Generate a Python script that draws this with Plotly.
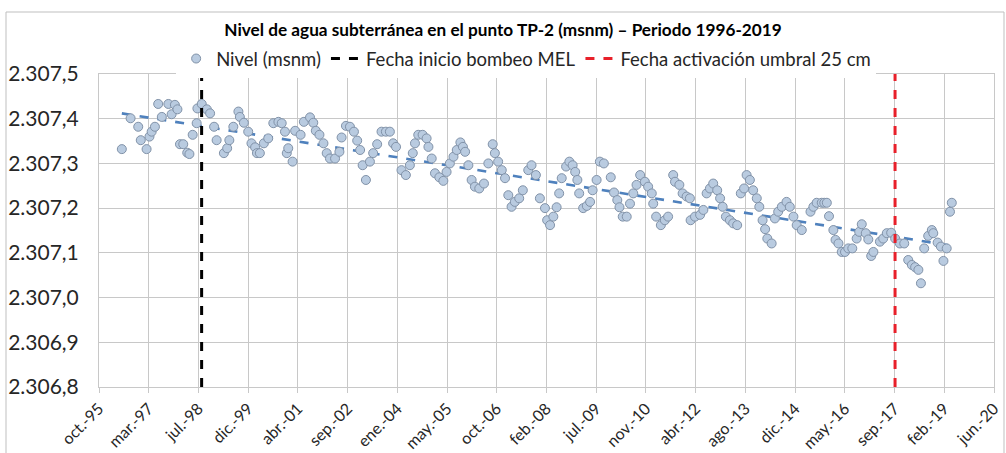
import numpy as np
import pandas as pd
import plotly.graph_objects as go

# ---- data (dates as decimal years, levels in m a.s.l.) ----
fecha_decimal = [
    1996.45, 1996.69, 1996.90, 1996.97, 1997.13, 1997.21, 1997.27, 1997.36, 1997.45, 1997.55,
    1997.73, 1997.82, 1997.91, 1997.98, 1998.05, 1998.14, 1998.25, 1998.31, 1998.40, 1998.51,
    1998.53, 1998.65, 1998.79, 1998.88, 1998.99, 1999.06, 1999.26, 1999.35, 1999.41, 1999.52,
    1999.66, 1999.70, 1999.81, 1999.93, 2000.02, 2000.12, 2000.17, 2000.25, 2000.36, 2000.48,
    2000.62, 2000.76, 2000.85, 2000.94, 2000.99, 2001.03, 2001.15, 2001.22, 2001.37, 2001.46,
    2001.63, 2001.72, 2001.79, 2001.89, 2002.00, 2002.09, 2002.18, 2002.32, 2002.44, 2002.50,
    2002.62, 2002.73, 2002.84, 2002.93, 2003.01, 2003.08, 2003.17, 2003.28, 2003.37, 2003.48,
    2003.60, 2003.72, 2003.83, 2003.92, 2004.00, 2004.15, 2004.27, 2004.38, 2004.46, 2004.52,
    2004.61, 2004.73, 2004.84, 2004.89, 2004.98, 2005.07, 2005.19, 2005.30, 2005.39, 2005.48,
    2005.58, 2005.67, 2005.77, 2005.84, 2005.90, 2005.99, 2006.08, 2006.17, 2006.29, 2006.42,
    2006.54, 2006.66, 2006.72, 2006.81, 2006.91, 2007.00, 2007.09, 2007.18, 2007.27, 2007.39,
    2007.49, 2007.64, 2007.73, 2007.85, 2007.96, 2008.10, 2008.16, 2008.24, 2008.33, 2008.42,
    2008.49, 2008.56, 2008.68, 2008.77, 2008.86, 2008.93, 2008.99, 2009.04, 2009.15, 2009.25,
    2009.34, 2009.41, 2009.52, 2009.61, 2009.72, 2009.91, 2010.00, 2010.09, 2010.15, 2010.24,
    2010.35, 2010.44, 2010.53, 2010.62, 2010.72, 2010.85, 2010.94, 2011.04, 2011.08, 2011.16,
    2011.29, 2011.40, 2011.49, 2011.63, 2011.68, 2011.80, 2011.89, 2012.00, 2012.09, 2012.11,
    2012.23, 2012.37, 2012.46, 2012.55, 2012.64, 2012.73, 2012.84, 2012.92, 2012.99, 2013.08,
    2013.19, 2013.28, 2013.39, 2013.49, 2013.58, 2013.65, 2013.74, 2013.83, 2013.93, 2014.00,
    2014.09, 2014.16, 2014.22, 2014.34, 2014.43, 2014.52, 2014.62, 2014.75, 2014.84, 2014.94,
    2015.03, 2015.17, 2015.41, 2015.49, 2015.58, 2015.72, 2015.79, 2015.86, 2015.92, 2016.04,
    2016.10, 2016.18, 2016.27, 2016.36, 2016.45, 2016.56, 2016.68, 2016.75, 2016.82, 2016.93,
    2017.00, 2017.08, 2017.14, 2017.32, 2017.41, 2017.51, 2017.63, 2017.74, 2017.87, 2017.99,
    2018.10, 2018.20, 2018.29, 2018.38, 2018.45, 2018.54, 2018.65, 2018.75, 2018.79, 2018.91,
    2019.00, 2019.07, 2019.16, 2019.25, 2019.30,
]
nivel_msnm = [
    2307.332, 2307.401, 2307.382, 2307.352, 2307.332, 2307.360, 2307.371, 2307.382, 2307.433, 2307.404,
    2307.433, 2307.410, 2307.431, 2307.421, 2307.343, 2307.343, 2307.324, 2307.321, 2307.364, 2307.390,
    2307.423, 2307.433, 2307.421, 2307.412, 2307.382, 2307.352, 2307.323, 2307.334, 2307.352, 2307.382,
    2307.416, 2307.404, 2307.391, 2307.371, 2307.345, 2307.336, 2307.323, 2307.323, 2307.345, 2307.356,
    2307.390, 2307.393, 2307.390, 2307.371, 2307.323, 2307.334, 2307.304, 2307.373, 2307.364, 2307.393,
    2307.403, 2307.391, 2307.373, 2307.364, 2307.345, 2307.323, 2307.311, 2307.311, 2307.326, 2307.358,
    2307.384, 2307.382, 2307.371, 2307.351, 2307.330, 2307.296, 2307.263, 2307.304, 2307.323, 2307.343,
    2307.371, 2307.371, 2307.371, 2307.345, 2307.337, 2307.285, 2307.274, 2307.296, 2307.323, 2307.345,
    2307.364, 2307.364, 2307.356, 2307.337, 2307.311, 2307.278, 2307.269, 2307.261, 2307.281, 2307.300,
    2307.315, 2307.330, 2307.347, 2307.337, 2307.326, 2307.296, 2307.263, 2307.248, 2307.244, 2307.255,
    2307.300, 2307.343, 2307.323, 2307.304, 2307.285, 2307.267, 2307.229, 2307.203, 2307.214, 2307.222,
    2307.240, 2307.285, 2307.296, 2307.274, 2307.222, 2307.200, 2307.173, 2307.162, 2307.181, 2307.202,
    2307.233, 2307.267, 2307.293, 2307.304, 2307.296, 2307.281, 2307.263, 2307.233, 2307.200, 2307.205,
    2307.214, 2307.240, 2307.263, 2307.304, 2307.300, 2307.269, 2307.235, 2307.218, 2307.202, 2307.181,
    2307.181, 2307.210, 2307.233, 2307.252, 2307.274, 2307.259, 2307.248, 2307.233, 2307.210, 2307.181,
    2307.162, 2307.173, 2307.181, 2307.274, 2307.259, 2307.252, 2307.233, 2307.226, 2307.222, 2307.173,
    2307.181, 2307.185, 2307.196, 2307.233, 2307.244, 2307.255, 2307.240, 2307.222, 2307.203, 2307.181,
    2307.173, 2307.166, 2307.162, 2307.233, 2307.244, 2307.274, 2307.263, 2307.240, 2307.222, 2307.203,
    2307.173, 2307.153, 2307.132, 2307.121, 2307.177, 2307.192, 2307.203, 2307.214, 2307.203, 2307.181,
    2307.162, 2307.151, 2307.192, 2307.203, 2307.212, 2307.212, 2307.212, 2307.212, 2307.182, 2307.151,
    2307.129, 2307.121, 2307.102, 2307.102, 2307.110, 2307.110, 2307.132, 2307.147, 2307.164, 2307.144,
    2307.130, 2307.093, 2307.102, 2307.125, 2307.132, 2307.144, 2307.145, 2307.132, 2307.121, 2307.121,
    2307.084, 2307.073, 2307.068, 2307.062, 2307.032, 2307.110, 2307.138, 2307.151, 2307.144, 2307.123,
    2307.114, 2307.082, 2307.110, 2307.192, 2307.212,
]
fecha_inicio_bombeo = "1998-08-25"
fecha_umbral = "2017-09-27"

tick_labels = ["oct.-95", "mar.-97", "jul.-98", "dic.-99", "abr.-01", "sep.-02", "ene.-04",
               "may.-05", "oct.-06", "feb.-08", "jul.-09", "nov.-10", "abr.-12", "ago.-13",
               "dic.-14", "may.-16", "sep.-17", "feb.-19", "jun.-20"]
eje_inicio = "1995-10-28"
paso_dias = 500
y_min, y_max = 2306.8, 2307.5

titulo = "Nivel de agua subterránea en el punto TP-2 (msnm) – Periodo 1996-2019"
nombre_serie = "Nivel (msnm)"
nombre_bombeo = "Fecha inicio bombeo MEL"
nombre_umbral = "Fecha activación umbral 25 cm"


def dec_to_date(d):
    y = int(np.floor(d))
    start = pd.Timestamp(year=y, month=1, day=1)
    ndays = (pd.Timestamp(year=y + 1, month=1, day=1) - start).days
    return start + pd.Timedelta(days=(d - y) * ndays)


fechas = [dec_to_date(d) for d in fecha_decimal]

# linear trend (Excel-style)
xs = np.array(fecha_decimal)
a, b = np.polyfit(xs, np.array(nivel_msnm), 1)
trend_x = [fechas[0], fechas[-1]]
trend_y = [a * xs[0] + b, a * xs[-1] + b]

tickvals = [pd.Timestamp(eje_inicio) + pd.Timedelta(days=paso_dias * i) for i in range(len(tick_labels))]

FONT = "Lato"
fig = go.Figure()
fig.add_trace(go.Scatter(
    x=trend_x, y=trend_y, mode="lines", showlegend=False, hoverinfo="skip",
    line=dict(color="#4F81BD", width=2.6, dash="dash")))
fig.add_trace(go.Scatter(
    x=fechas, y=nivel_msnm, mode="markers", name=nombre_serie,
    marker=dict(size=9, color="#B9CBE0", line=dict(color="#8192A8", width=1))))
fig.add_trace(go.Scatter(
    x=[fecha_inicio_bombeo, fecha_inicio_bombeo], y=[y_min, y_max], mode="lines",
    name=nombre_bombeo, line=dict(color="black", width=3, dash="dash")))
fig.add_trace(go.Scatter(
    x=[fecha_umbral, fecha_umbral], y=[y_min, y_max], mode="lines",
    name=nombre_umbral, line=dict(color="#E8202A", width=3, dash="dash")))

fig.update_layout(
    width=1006, height=453,
    margin=dict(l=99, r=12, t=74, b=66, autoexpand=False),
    paper_bgcolor="white", plot_bgcolor="white",
    separators=",.",
    font=dict(family=FONT, size=17, color="#262626"),
    title=dict(text="<b>" + titulo + "</b>", x=0.5, xref="container", xanchor="center",
               y=1 - 30 / 453, yanchor="middle", font=dict(family=FONT, size=17.2, color="black")),
    legend=dict(orientation="h", x=0.523, xanchor="center", xref="container",
                y=1 - 59 / 453, yref="container", yanchor="middle",
                font=dict(family=FONT, size=18.5, color="#262626"),
                itemwidth=30, traceorder="normal", tracegroupgap=0),
    showlegend=True,
)
fig.update_xaxes(
    type="date",
    range=[tickvals[0], tickvals[-1]],
    tickvals=tickvals, ticktext=tick_labels, tickangle=-45,
    tickfont=dict(family=FONT, size=16, color="#262626"),
    showgrid=True, gridcolor="#C8C8C8", gridwidth=1,
    showline=True, linecolor="#C8C8C8", mirror=True,
    ticks="outside", ticklen=5, tickcolor="#C8C8C8", zeroline=False,
)
fig.update_yaxes(
    range=[y_min, y_max], dtick=0.1, tick0=y_min, tickformat=",.1f",
    tickfont=dict(family=FONT, size=21, color="#262626"),
    showgrid=True, gridcolor="#C8C8C8", gridwidth=1,
    showline=True, linecolor="#C8C8C8", mirror=True,
    ticks="", ticklabelstandoff=15, zeroline=False,
)
fig.add_shape(type="rect", xref="paper", yref="paper",
              x0=(6 - 99) / 895, x1=(1004 - 99) / 895,
              y0=-0.3, y1=(387 - 12) / 313,
              line=dict(color="#BFBFBF", width=1), fillcolor="rgba(0,0,0,0)", layer="below")

fig.write_html("out.html", config={"displayModeBar": False},
               post_script="document.body.style.margin='0px';")
